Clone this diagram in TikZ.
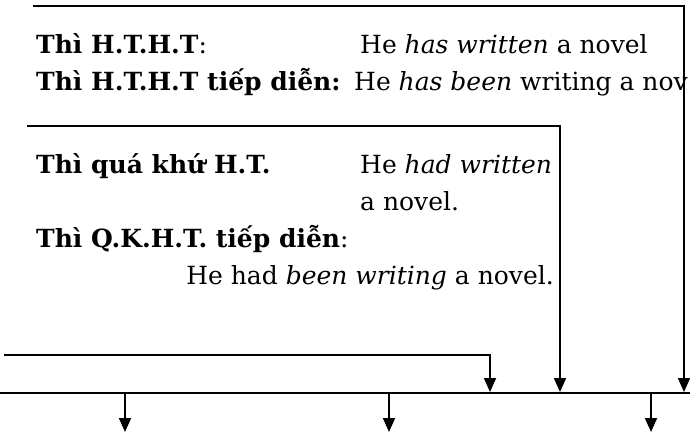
\documentclass[tikz,border=0pt]{standalone}
\usepackage{fontspec}
\setmainfont{DejaVu Serif}
\usetikzlibrary{arrows.meta}
\tikzset{
  txt/.style={anchor=base west, inner sep=0pt, font=\fontsize{25}{30}\selectfont},
  ln/.style={line width=2.2pt, line cap=rect},
  mainln/.style={line width=2.8pt},
  arr/.style={line width=1.8pt, -{Triangle[width=12pt,length=14pt]}},
}
\begin{document}
\begin{tikzpicture}[x=1pt,y=-1pt]
\useasboundingbox (0,0) rectangle (690,436);
% text
\node[txt] (r1a) at (36,53) {\textbf{Thì H.T.H.T}:};
\node[txt] (r1b) at (360,53) {He \textit{has written} a novel};
\node[txt] (r2a) at (36,90) {\textbf{Thì H.T.H.T tiếp diễn:}};
\node[txt] (r2b) at (354,90) {He \textit{has been} writing a nov};
\node[txt] (r3a) at (36,173) {\textbf{Thì quá khứ H.T.}};
\node[txt] (r3b) at (360,173) {He \textit{had written}};
\node[txt] (r4) at (360,210) {a novel.};
\node[txt] (r5) at (36,247) {\textbf{Thì Q.K.H.T. tiếp diễn}:};
\node[txt,anchor=base east] (r6) at (554,284) {He had \textit{been writing} a novel.};
% coordinates
\coordinate (t1) at (34,6);
\coordinate (c1) at (684,6);
\coordinate (e1) at (684,392);
\coordinate (t2) at (28,126);
\coordinate (c2) at (560,126);
\coordinate (e2) at (560,392);
\coordinate (t3) at (5,355);
\coordinate (c3) at (490,355);
\coordinate (e3) at (490,392);
\coordinate (mL) at (0,393);
\coordinate (mR) at (690,393);
\coordinate (d1s) at (125,393);
\coordinate (d1e) at (125,432);
\coordinate (d2s) at (389,393);
\coordinate (d2e) at (389,432);
\coordinate (d3s) at (651,393);
\coordinate (d3e) at (651,432);
% lines
\draw[ln] (t1) -- (c1);
\draw[ln] (t2) -- (c2);
\draw[ln] (t3) -- (c3);
\draw[mainln] (mL) -- (mR);
\draw[arr] (c1) -- (e1);
\draw[arr] (c2) -- (e2);
\draw[arr] (c3) -- (e3);
\draw[arr] (d1s) -- (d1e);
\draw[arr] (d2s) -- (d2e);
\draw[arr] (d3s) -- (d3e);
\end{tikzpicture}
\end{document}
